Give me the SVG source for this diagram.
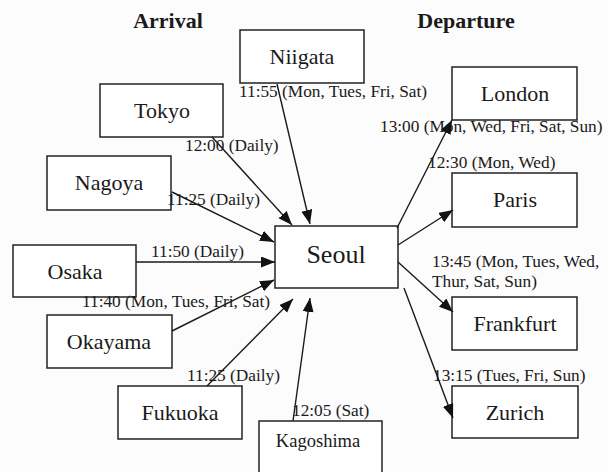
<svg xmlns="http://www.w3.org/2000/svg" width="608" height="472" viewBox="0 0 608 472" font-family="'Liberation Serif', 'Times New Roman', serif">
<defs>
<marker id="ah" markerUnits="userSpaceOnUse" markerWidth="15" markerHeight="12" refX="14" refY="5.5" orient="auto">
<path d="M0,0 L14,5.5 L0,11 z" fill="#111"/>
</marker>
<style>
.box{fill:#fff;stroke:#222;stroke-width:1.5}
.cn{stroke:#1a1a1a;stroke-width:1.4;fill:none;marker-end:url(#ah)}
.nl{font-family:"Liberation Serif","Times New Roman",serif;font-size:22px;fill:#1a1a1a;text-anchor:middle}
.hd{font-family:"Liberation Serif","Times New Roman",serif;font-size:22px;font-weight:bold;fill:#1a1a1a;text-anchor:middle}
.el{font-family:"Liberation Serif","Times New Roman",serif;font-size:17.3px;fill:#1a1a1a}
</style>
</defs>
<rect width="608" height="472" fill="#fcfcfc"/>
<text class="hd" x="168" y="28">Arrival</text>
<text class="hd" x="466" y="28">Departure</text>

<g id="niigata"><rect class="box" x="240" y="30" width="124" height="53"/><text class="nl" x="302" y="64">Niigata</text></g>
<g id="tokyo"><rect class="box" x="100" y="84" width="123" height="53"/><text class="nl" x="162" y="118">Tokyo</text></g>
<g id="nagoya"><rect class="box" x="47" y="156" width="124" height="54"/><text class="nl" x="109" y="190">Nagoya</text></g>
<g id="osaka"><rect class="box" x="13" y="245" width="123" height="52"/><text class="nl" x="75" y="279">Osaka</text></g>
<g id="okayama"><rect class="box" x="47" y="315" width="125" height="53"/><text class="nl" x="109" y="349">Okayama</text></g>
<g id="fukuoka"><rect class="box" x="118" y="386" width="124" height="53"/><text class="nl" x="180" y="420">Fukuoka</text></g>
<g id="kagoshima"><rect class="box" x="259" y="421" width="123" height="60"/><text class="nl" x="318" y="447" style="font-size:18.5px">Kagoshima</text></g>
<g id="seoul"><rect class="box" x="275" y="226" width="123" height="62"/><text class="nl" x="336" y="263" style="font-size:26px">Seoul</text></g>
<g id="london"><rect class="box" x="452" y="67" width="125" height="53"/><text class="nl" x="515" y="101">London</text></g>
<g id="paris"><rect class="box" x="452" y="173" width="125" height="54"/><text class="nl" x="515" y="207">Paris</text></g>
<g id="frankfurt"><rect class="box" x="452" y="297" width="125" height="53"/><text class="nl" x="515" y="331">Frankfurt</text></g>
<g id="zurich"><rect class="box" x="452" y="386" width="126" height="52"/><text class="nl" x="515" y="420">Zurich</text></g>

<g id="connectors">
<line class="cn" x1="277" y1="84" x2="310" y2="224"/>
<line class="cn" x1="212" y1="137" x2="292" y2="225"/>
<line class="cn" x1="172" y1="192" x2="274" y2="242"/>
<line class="cn" x1="136" y1="262" x2="275" y2="262"/>
<line class="cn" x1="172" y1="331" x2="274" y2="280"/>
<line class="cn" x1="207" y1="386" x2="293" y2="299"/>
<line class="cn" x1="293" y1="421" x2="310" y2="298"/>
<line class="cn" x1="397" y1="228" x2="452" y2="120"/>
<line class="cn" x1="398" y1="245" x2="453" y2="210"/>
<line class="cn" x1="398" y1="262" x2="453" y2="312"/>
<line class="cn" x1="404" y1="288" x2="453" y2="418"/>
</g>

<g id="labels">
<text class="el" x="239" y="97">11:55 (Mon, Tues, Fri, Sat)</text>
<text class="el" x="185" y="151">12:00 (Daily)</text>
<text class="el" x="167" y="205">11:25 (Daily)</text>
<text class="el" x="151" y="257">11:50 (Daily)</text>
<text class="el" x="82" y="307">11:40 (Mon, Tues, Fri, Sat)</text>
<text class="el" x="187" y="381">11:25 (Daily)</text>
<text class="el" x="292" y="416">12:05 (Sat)</text>
<text class="el" x="380" y="132">13:00 (Mon, Wed, Fri, Sat, Sun)</text>
<text class="el" x="428" y="168">12:30 (Mon, Wed)</text>
<text class="el" x="432" y="267">13:45 (Mon, Tues, Wed,</text>
<text class="el" x="432" y="287">Thur, Sat, Sun)</text>
<text class="el" x="433" y="381">13:15 (Tues, Fri, Sun)</text>
</g>
</svg>
